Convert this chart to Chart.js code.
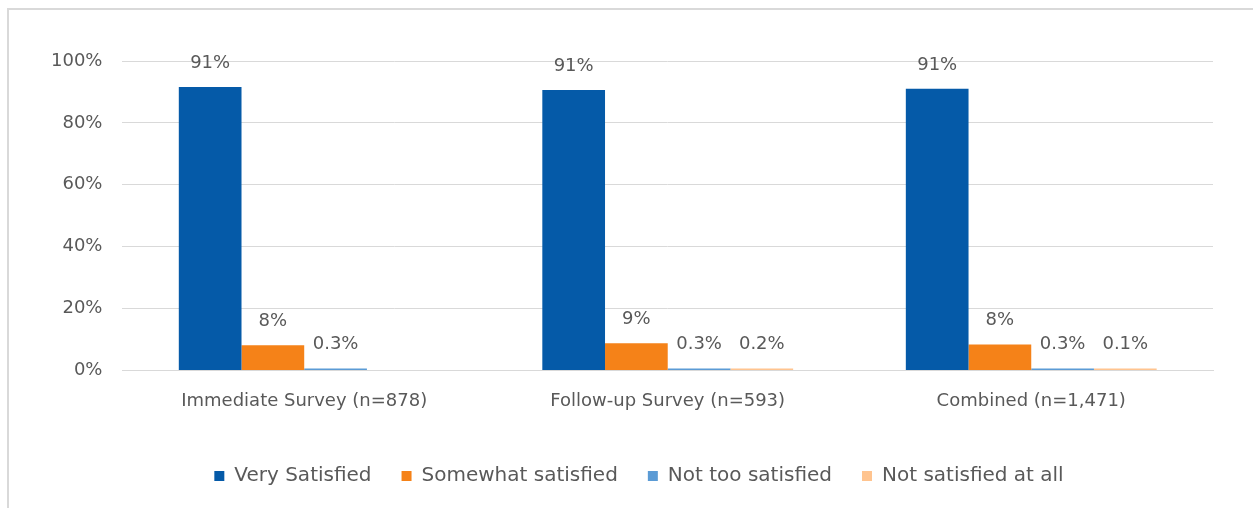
<!DOCTYPE html>
<html>
<head>
<meta charset="utf-8">
<script src="https://cdn.jsdelivr.net/npm/chart.js@4/dist/chart.umd.min.js"></script>
<style>
  html, body { margin: 0; padding: 0; background: #fff; }
  #wrap { position: relative; width: 1253px; height: 508px; overflow: hidden; }
  #frame { position: absolute; left: 7px; top: 8px; width: 1300px; height: 600px;
           border-left: 2px solid #d9d9d9; border-top: 2px solid #d9d9d9; }
  #c { position: absolute; left: 0; top: 0; }
</style>
</head>
<body>
<div id="wrap">
  <div id="frame"></div>
  <canvas id="c" width="1253" height="508"></canvas>
</div>
<script>
// --- dados ---
const categories = ['Immediate Survey (n=878)', 'Follow-up Survey (n=593)', 'Combined (n=1,471)'];
const seriesNames = ['Very Satisfied', 'Somewhat satisfied', 'Not too satisfied', 'Not satisfied at all'];
const verySatisfied = [91.6, 90.6, 91.0];
const somewhatSatisfied = [8.1, 8.8, 8.4];
const notTooSatisfied = [0.3, 0.3, 0.3];
const notAtAll = [null, 0.2, 0.1];
const veryLabels = ['91%', '91%', '91%'];
const somewhatLabels = ['8%', '9%', '8%'];
const notTooLabels = ['0.3%', '0.3%', '0.3%'];
const notAtAllLabels = ['', '0.2%', '0.1%'];
const yTicks = [0, 20, 40, 60, 80, 100];

const colors = ['#055aa8', '#f58218', '#5b9bd5', '#ffc48f'];
const textColor = '#595959';
const fontFamily = "'DejaVu Sans', sans-serif";

const seriesValues = [verySatisfied, somewhatSatisfied, notTooSatisfied, notAtAll];
const seriesLabels = [veryLabels, somewhatLabels, notTooLabels, notAtAllLabels];

// rótulos acima das barras
const barLabels = {
  id: 'barLabels',
  afterDatasetsDraw(chart) {
    const c = chart.ctx;
    c.save();
    c.font = '18px ' + fontFamily;
    c.fillStyle = textColor;
    c.textAlign = 'center';
    c.textBaseline = 'middle';
    chart.data.datasets.forEach((ds, i) => {
      chart.getDatasetMeta(i).data.forEach((bar, j) => {
        const txt = seriesLabels[i][j];
        if (txt) c.fillText(txt, bar.x, bar.y - 24);
      });
    });
    c.restore();
  }
};

// desloca a legenda um pouco para a direita (centrada como no original)
const legendShift = {
  id: 'legendShift',
  afterLayout(chart) {
    chart.legend.left += 17;
    chart.legend.right += 17;
  }
};

new Chart(document.getElementById('c'), {
  type: 'bar',
  data: {
    labels: categories,
    datasets: seriesNames.map((name, i) => ({
      label: name,
      data: seriesValues[i],
      backgroundColor: colors[i],
      borderWidth: 0,
      barPercentage: 1,
      categoryPercentage: 0.69,
      minBarLength: 2
    }))
  },
  options: {
    responsive: false,
    animation: false,
    layout: { padding: { left: 31, right: 40, top: 61, bottom: 12 } },
    scales: {
      x: {
        grid: { display: false },
        border: { color: '#d9d9d9' },
        ticks: { color: textColor, font: { family: fontFamily, size: 18 }, padding: 12 },
        afterFit(axis) { axis.height += 12; } // espaço extra até a legenda
      },
      y: {
        min: 0, max: 100,
        afterBuildTicks(axis) { axis.ticks = yTicks.map(v => ({ value: v })); },
        grid: { color: '#d9d9d9', drawTicks: false },
        border: { display: false },
        ticks: { color: textColor, font: { family: fontFamily, size: 18 }, padding: 20,
                 callback: v => v + '%' }
      }
    },
    plugins: {
      legend: {
        position: 'bottom',
        labels: { color: textColor, font: { family: fontFamily, size: 20 },
                  boxWidth: 10, boxHeight: 10, padding: 30 }
      },
      tooltip: { enabled: false }
    }
  },
  plugins: [barLabels, legendShift]
});
</script>
</body>
</html>
